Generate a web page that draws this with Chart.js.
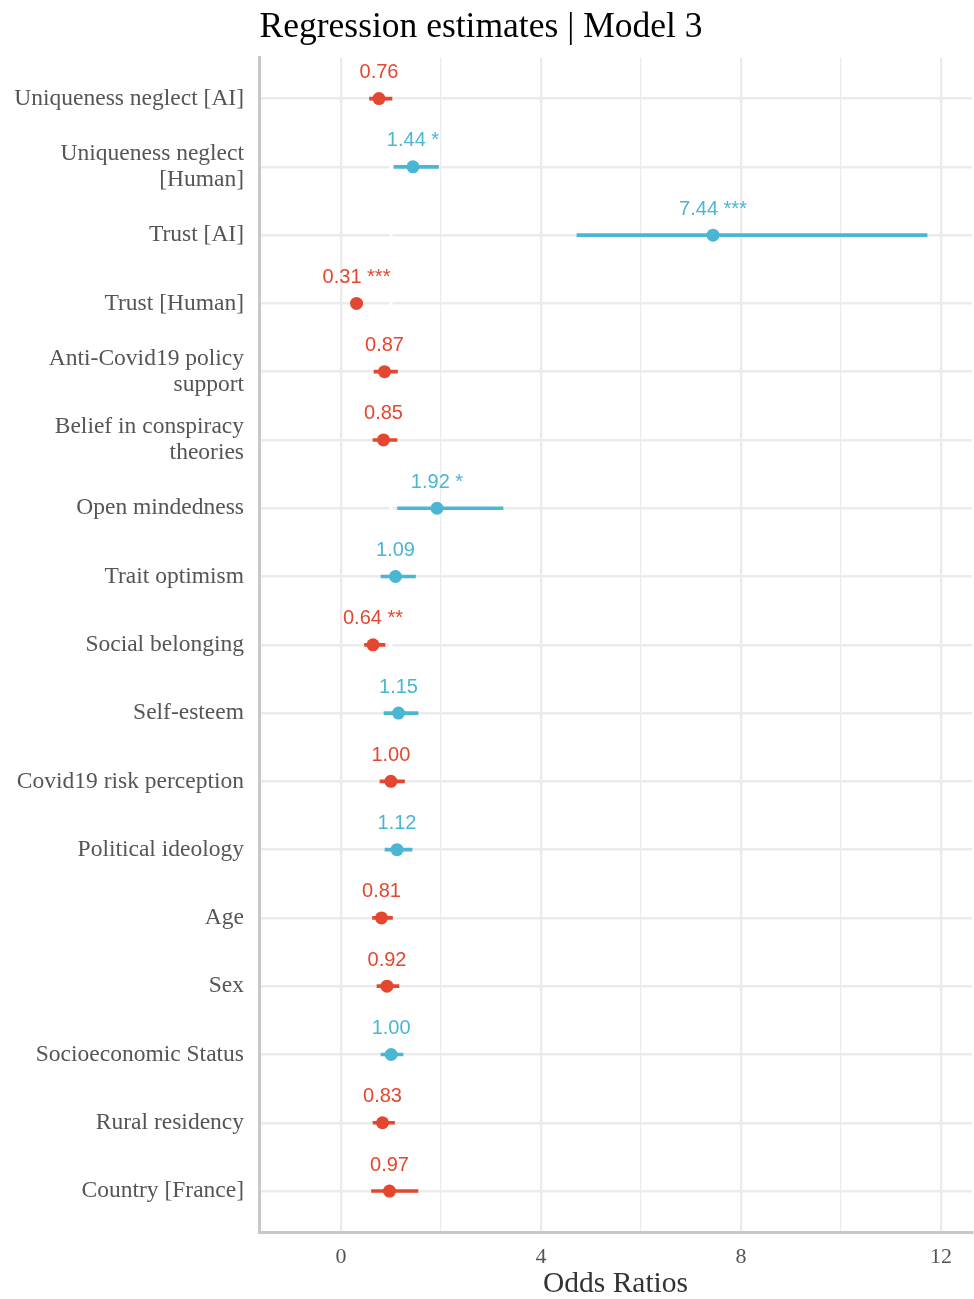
<!DOCTYPE html>
<html>
<head>
<meta charset="utf-8">
<script src="https://cdn.jsdelivr.net/npm/chart.js@4"></script>
<style>
  html, body { margin: 0; padding: 0; background: #fff; overflow: hidden; }
  #wrap { width: 974px; height: 1299px; position: relative; }
  #forest { display: block; }
</style>
</head>
<body>
<div id="wrap"><canvas id="forest"></canvas></div>
<script>
const terms = [
    'Uniqueness neglect [AI]',
    'Uniqueness neglect\n[Human]',
    'Trust [AI]',
    'Trust [Human]',
    'Anti-Covid19 policy\nsupport',
    'Belief in conspiracy\ntheories',
    'Open mindedness',
    'Trait optimism',
    'Social belonging',
    'Self-esteem',
    'Covid19 risk perception',
    'Political ideology',
    'Age',
    'Sex',
    'Socioeconomic Status',
    'Rural residency',
    'Country [France]'
];
const estimates = [0.76, 1.44, 7.44, 0.31, 0.87, 0.85, 1.92, 1.09, 0.64, 1.15, 0.998, 1.12, 0.81, 0.92, 1.003, 0.83, 0.97];
const ciLow  = [0.57, 1.06, 4.72, 0.22, 0.66, 0.64, 1.13, 0.80, 0.47, 0.86, 0.78, 0.88, 0.63, 0.72, 0.80, 0.64, 0.61];
const ciHigh = [1.02, 1.95, 11.72, 0.43, 1.13, 1.12, 3.24, 1.49, 0.88, 1.54, 1.27, 1.42, 1.03, 1.16, 1.24, 1.07, 1.54];
const stars  = ['', '*', '***', '***', '', '', '*', '', '**', '', '', '', '', '', '', '', ''];
const xTicks = [0, 2, 4, 6, 8, 10, 12];
const xLabelled = [0, 4, 8, 12];

const RED = '#E4472F';
const BLUE = '#4AB6D4';
const colors = estimates.map(v => v < 1 ? RED : BLUE);

const serif = '"Liberation Serif", "Times New Roman", serif';
const sans = '"Liberation Sans", Arial, sans-serif';

// white reference line at OR = 1, under the marks
const refLine = {
    id: 'refLine',
    beforeDatasetsDraw(chart) {
        const { ctx, chartArea: { top, bottom }, scales: { x } } = chart;
        const px = x.getPixelForValue(1);
        ctx.save();
        ctx.strokeStyle = '#ffffff';
        ctx.lineWidth = 3;
        ctx.beginPath();
        ctx.moveTo(px, top);
        ctx.lineTo(px, bottom - 2);
        ctx.stroke();
        ctx.restore();
    }
};

// value + significance labels above each point
const valueLabels = {
    id: 'valueLabels',
    afterDatasetsDraw(chart) {
        const { ctx, scales: { x, y } } = chart;
        ctx.save();
        ctx.font = '20px ' + sans;
        ctx.textAlign = 'center';
        ctx.textBaseline = 'middle';
        estimates.forEach((v, i) => {
            const txt = v.toFixed(2) + (stars[i] ? ' ' + stars[i] : '');
            ctx.fillStyle = colors[i];
            ctx.fillText(txt, x.getPixelForValue(v), y.getPixelForValue(i) - 26);
        });
        ctx.restore();
    }
};

new Chart(document.getElementById('forest'), {
    type: 'bar',
    data: {
        datasets: [
            {
                type: 'scatter',
                data: estimates.map((v, i) => ({ x: v, y: i })),
                pointRadius: 6.5,
                pointHoverRadius: 6.5,
                pointBackgroundColor: colors,
                pointBorderWidth: 0,
                order: 1
            },
            {
                type: 'bar',
                indexAxis: 'y',
                data: estimates.map((v, i) => ({ x: [ciLow[i], ciHigh[i]], y: i })),
                backgroundColor: colors,
                barThickness: 3,
                grouped: false,
                order: 2
            }
        ]
    },
    options: {
        indexAxis: 'y',
        responsive: true,
        maintainAspectRatio: false,
        animation: false,
        layout: { autoPadding: false, padding: { left: -10, right: 2, top: 0, bottom: 0 } },
        plugins: {
            legend: { display: false },
            tooltip: { enabled: false },
            title: {
                display: true,
                text: 'Regression estimates | Model 3',
                color: '#000',
                font: { family: serif, size: 35.5, weight: 'normal', lineHeight: 1.2 },
                padding: { top: 6, bottom: 9 }
            }
        },
        scales: {
            x: {
                type: 'linear',
                position: 'bottom',
                min: -1.64,
                max: 12.62,
                offset: false,
                afterBuildTicks(scale) {
                    scale.ticks = xTicks.map(v => ({ value: v }));
                },
                afterFit(scale) { scale.height = 67; },
                ticks: {
                    padding: 12,
                    color: '#555',
                    font: { family: serif, size: 22 },
                    callback: v => xLabelled.includes(v) ? String(v) : ''
                },
                grid: {
                    color: '#ebebeb',
                    offset: false,
                    lineWidth: c => (c.tick && c.tick.value % 4 === 0) ? 2.4 : 1.2,
                    drawTicks: false
                },
                border: { display: true, color: '#c8c8c8', width: 3 },
                title: {
                    display: true,
                    text: 'Odds Ratios',
                    color: '#333',
                    font: { family: serif, size: 29.5, lineHeight: 1 },
                    padding: { top: 0, bottom: 0 }
                }
            },
            y: {
                type: 'linear',
                reverse: true,
                min: -0.6,
                max: 16.6,
                offset: false,
                afterBuildTicks(scale) {
                    scale.ticks = terms.map((_, i) => ({ value: i }));
                },
                afterFit(scale) { scale.width = 269; },
                ticks: {
                    padding: 15,
                    autoSkip: false,
                    color: '#555',
                    font: { family: serif, size: 23.5, lineHeight: 1.1 },
                    callback: v => terms[v] !== undefined ? terms[v].split('\n') : ''
                },
                grid: { color: '#ebebeb', lineWidth: 2.4, drawTicks: false, offset: false },
                border: { display: true, color: '#c8c8c8', width: 3 }
            }
        }
    },
    plugins: [refLine, valueLabels]
});
</script>
</body>
</html>
